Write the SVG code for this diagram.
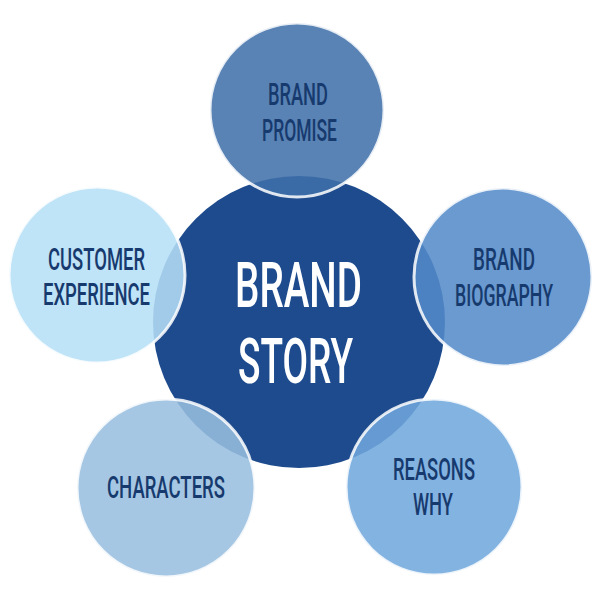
<svg xmlns="http://www.w3.org/2000/svg" width="600" height="600" viewBox="0 0 600 600">
  <style>
    .sat { stroke: #ffffff; stroke-width: 3; stroke-opacity: 0.85; fill-opacity: 0.87; }
    .lbl { font-family: Roboto, "Liberation Sans", sans-serif; font-size: 31px; font-weight: 500; fill: #173a6e; text-anchor: middle; }
    .main { font-family: Roboto, "Liberation Sans", sans-serif; font-size: 63px; font-weight: 500; fill: #ffffff; text-anchor: middle; }
  </style>
  <rect width="600" height="600" fill="#ffffff"/>
  <g id="brand-story">
    <circle cx="299" cy="322" r="146" fill="#1d4b8d"/>
    <text class="main" x="298.5" y="307" textLength="127" lengthAdjust="spacingAndGlyphs">BRAND</text>
    <text class="main" x="295.5" y="383" textLength="115" lengthAdjust="spacingAndGlyphs">STORY</text>
  </g>
  <g id="brand-promise">
    <circle class="sat" cx="297" cy="110" r="87" fill="#4070aa"/>
    <text class="lbl" x="298" y="105" textLength="60" lengthAdjust="spacingAndGlyphs">BRAND</text>
    <text class="lbl" x="299.5" y="141" textLength="75" lengthAdjust="spacingAndGlyphs">PROMISE</text>
  </g>
  <g id="brand-biography">
    <circle class="sat" cx="503" cy="277" r="89" fill="#548bc9"/>
    <text class="lbl" x="504" y="270" textLength="62" lengthAdjust="spacingAndGlyphs">BRAND</text>
    <text class="lbl" x="504" y="306" textLength="98" lengthAdjust="spacingAndGlyphs">BIOGRAPHY</text>
  </g>
  <g id="reasons-why">
    <circle class="sat" cx="434" cy="487" r="88" fill="#70a8dc"/>
    <text class="lbl" x="434" y="480" textLength="82" lengthAdjust="spacingAndGlyphs">REASONS</text>
    <text class="lbl" x="433" y="515" textLength="40" lengthAdjust="spacingAndGlyphs">WHY</text>
  </g>
  <g id="characters">
    <circle class="sat" cx="166" cy="488" r="89" fill="#99bfdf"/>
    <text class="lbl" x="166" y="498" textLength="118" lengthAdjust="spacingAndGlyphs">CHARACTERS</text>
  </g>
  <g id="customer-experience">
    <circle class="sat" cx="97" cy="275" r="88" fill="#b5dff6"/>
    <text class="lbl" x="96.5" y="270" textLength="97" lengthAdjust="spacingAndGlyphs">CUSTOMER</text>
    <text class="lbl" x="96.5" y="305" textLength="107" lengthAdjust="spacingAndGlyphs">EXPERIENCE</text>
  </g>
  <g id="connectors"></g>
</svg>
